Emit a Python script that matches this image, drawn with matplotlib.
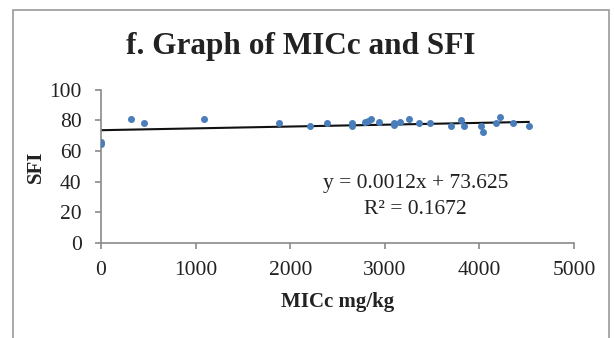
import matplotlib.pyplot as plt
import numpy as np
from matplotlib.patches import Rectangle

# data
mic = [0, 0, 313, 457, 1088, 1876, 2214, 2390, 2650, 2658, 2788, 2820, 2858,
       2939, 3097, 3100, 3165, 3252, 3361, 3474, 3703, 3801, 3833, 4020, 4037,
       4178, 4213, 4354, 4520]
sfi = [66.0, 64.5, 80.8, 78.6, 80.8, 78.6, 76.4, 78.6, 78.4, 76.4, 79.0, 79.5, 81.0,
       79.0, 76.9, 78.4, 79.0, 81.0, 78.6, 78.6, 76.2, 80.5, 76.2, 76.2, 72.3,
       78.4, 82.3, 78.4, 76.6]
slope = 0.0012
icpt = 73.625
r2 = 0.1672

plt.rcParams['font.family'] = ['Liberation Serif', 'DejaVu Serif']

fig = plt.figure(figsize=(6.14, 3.38), dpi=100)
ax = fig.add_axes([0.1645, 0.282, 0.7705, 0.452])

# outer frame
fig.patches.append(Rectangle((0.021, -0.02), 0.971, 0.99, transform=fig.transFigure,
                             fill=False, edgecolor='#9a9a9a', lw=1.2))

ax.scatter(mic, sfi, s=16, c='#4a7ebb', zorder=3)
xx = np.array([0, max(mic)])
ax.plot(xx, slope*xx + icpt, c='#111111', lw=1.5, zorder=2)

ax.set_xlim(0, 5000)
ax.set_ylim(0, 100)
ax.set_xticks(range(0, 5001, 1000))
ax.set_yticks(range(0, 101, 20))
for s in ['top', 'right']:
    ax.spines[s].set_visible(False)
for s in ['left', 'bottom']:
    ax.spines[s].set_color('#8a8a8a')
    ax.spines[s].set_linewidth(1.2)
ax.tick_params(colors='#8a8a8a', labelcolor='#222222', labelsize=15.5, length=4, width=1.2)
ax.tick_params(axis='y', pad=10)
ax.tick_params(axis='x', pad=9)

ax.set_xlabel('MICc mg/kg', fontsize=15, fontweight='bold', color='#222222', labelpad=9)
ax.set_ylabel('SFI', fontsize=15, fontweight='bold', color='#222222', labelpad=2)
fig.text(0.49, 0.862, 'f. Graph of MICc and SFI', ha='center', va='center',
         fontsize=22.5, fontweight='bold', color='#222222')

ax.text(0.665, 0.385, 'y = 0.0012x + 73.625', transform=ax.transAxes, ha='center',
        va='center', fontsize=15.5, color='#222222')
ax.text(0.665, 0.22, 'R² = %.4f' % r2, transform=ax.transAxes, ha='center',
        va='center', fontsize=15.5, color='#222222')

plt.savefig('out.png', dpi=100)
